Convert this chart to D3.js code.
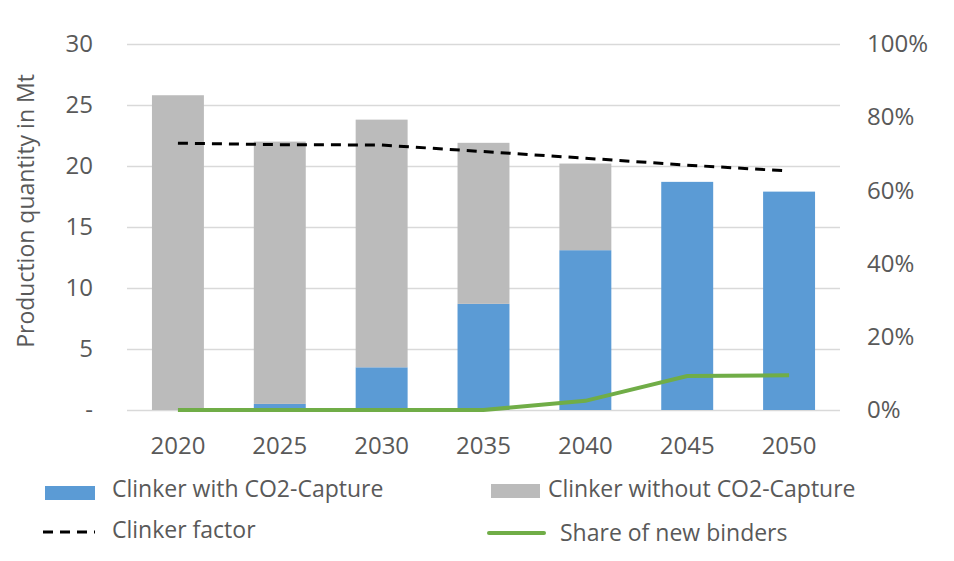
<!DOCTYPE html>
<html>
<head>
<meta charset="utf-8">
<script src="https://cdn.jsdelivr.net/npm/d3@7"></script>
<style>
  body { margin: 0; background: #fff; }
  svg text { font-family: "Open Sans", sans-serif; fill: #595959; }
</style>
</head>
<body>
<svg id="chart" width="954" height="561"></svg>
<script>
// chart data
var years = ["2020", "2025", "2030", "2035", "2040", "2045", "2050"];
var withCapture = [0, 0.5, 3.5, 8.7, 13.1, 18.7, 17.9];
var withoutCapture = [25.8, 21.5, 20.3, 13.2, 7.1, 0, 0];
var clinkerFactor = [0.729, 0.725, 0.724, 0.706, 0.688, 0.669, 0.653];
var newBinders = [0, 0, 0, 0, 0.025, 0.093, 0.095];
var leftTicks = [0, 5, 10, 15, 20, 25, 30];
var rightTicks = [0, 0.2, 0.4, 0.6, 0.8, 1];

(function () {
  var svg = d3.select("#chart");
  var plotLeft = 127, plotRight = 840, plotTop = 44, plotBottom = 410;

  var x = d3.scaleBand().domain(years).range([plotLeft, plotRight])
    .paddingInner(0.49).paddingOuter(0.245);
  var y = d3.scaleLinear().domain([0, 30]).range([plotBottom, plotTop]);
  var y2 = d3.scaleLinear().domain([0, 1]).range([plotBottom, plotTop]);

  // gridlines
  var grid = svg.append("g").attr("transform", "translate(" + plotLeft + ",0)")
    .call(d3.axisRight(y).tickValues(leftTicks).tickSize(plotRight - plotLeft).tickFormat(""));
  grid.select(".domain").remove();
  grid.selectAll("line").attr("stroke", "#d9d9d9").attr("stroke-width", 1.6);

  // stacked bars
  var rows = years.map(function (yr, i) {
    return { year: yr, capture: withCapture[i], noCapture: withoutCapture[i] };
  });
  var stack = d3.stack().keys(["capture", "noCapture"])(rows);
  var colors = { capture: "#5b9bd5", noCapture: "#bbbbbb" };

  svg.append("g").selectAll("g").data(stack).enter().append("g")
    .attr("fill", function (s) { return colors[s.key]; })
    .selectAll("rect").data(function (s) { return s; }).enter().append("rect")
    .attr("x", function (d) { return x(d.data.year); })
    .attr("width", x.bandwidth())
    .attr("y", function (d) { return y(d[1]); })
    .attr("height", function (d) { return y(d[0]) - y(d[1]); });

  // lines on the right axis
  var line = d3.line()
    .x(function (d, i) { return x(years[i]) + x.bandwidth() / 2; })
    .y(function (d) { return y2(d); });

  svg.append("path").datum(clinkerFactor)
    .attr("d", line).attr("fill", "none")
    .attr("stroke", "#000").attr("stroke-width", 3)
    .attr("stroke-dasharray", "10,7");

  svg.append("path").datum(newBinders)
    .attr("d", line).attr("fill", "none")
    .attr("stroke", "#70ad47").attr("stroke-width", 4);

  // axes
  var yAxis = svg.append("g").attr("transform", "translate(" + plotLeft + ",0)")
    .call(d3.axisLeft(y).tickValues(leftTicks).tickSize(0).tickPadding(34)
      .tickFormat(function (d) { return d === 0 ? "-" : d; }));
  var yAxis2 = svg.append("g").attr("transform", "translate(" + plotRight + ",0)")
    .call(d3.axisRight(y2).tickValues(rightTicks).tickSize(0).tickPadding(27)
      .tickFormat(d3.format(".0%")));
  var xAxis = svg.append("g").attr("transform", "translate(0," + plotBottom + ")")
    .call(d3.axisBottom(x).tickSize(0).tickPadding(27));

  [yAxis, yAxis2, xAxis].forEach(function (a) {
    a.select(".domain").remove();
    a.selectAll("text").style("font-size", "24px").attr("fill", "#595959")
      .style("font-family", "'Open Sans', sans-serif");
  });

  svg.append("text")
    .attr("transform", "translate(34,211) rotate(-90)")
    .attr("text-anchor", "middle")
    .style("font-size", "23px")
    .text("Production quantity in Mt");

  // legend
  var legend = svg.append("g").style("font-size", "23px");
  legend.append("rect").attr("x", 45).attr("y", 486).attr("width", 50).attr("height", 14).attr("fill", "#5b9bd5");
  legend.append("text").attr("x", 112).attr("y", 497).text("Clinker with CO2-Capture");
  legend.append("rect").attr("x", 491).attr("y", 484).attr("width", 49).attr("height", 14).attr("fill", "#bbbbbb");
  legend.append("text").attr("x", 548).attr("y", 497).text("Clinker without CO2-Capture");
  legend.append("line").attr("x1", 43).attr("x2", 95).attr("y1", 532).attr("y2", 532)
    .attr("stroke", "#000").attr("stroke-width", 3).attr("stroke-dasharray", "10,7");
  legend.append("text").attr("x", 112).attr("y", 538).text("Clinker factor");
  legend.append("line").attr("x1", 489).attr("x2", 544).attr("y1", 533).attr("y2", 533)
    .attr("stroke", "#70ad47").attr("stroke-width", 4).attr("stroke-linecap", "round");
  legend.append("text").attr("x", 560).attr("y", 541).text("Share of new binders");
})();
</script>
</body>
</html>
